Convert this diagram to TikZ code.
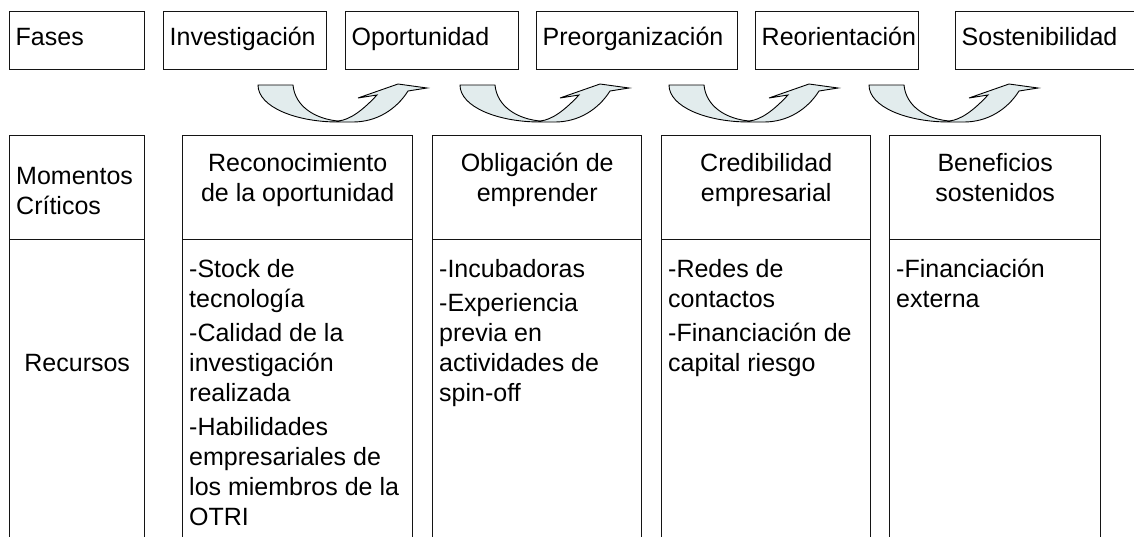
\documentclass[tikz,border=0pt]{standalone}
\usepackage{fontspec}
\setmainfont{Liberation Sans}
\definecolor{arrowfill}{RGB}{226,236,237}
\definecolor{boxline}{RGB}{20,20,20}
\newcommand\tstr[1]{\rule{0pt}{#1pt}}
\newcommand\hstr{\rule[-14pt]{0pt}{38pt}}
\begin{document}
\begin{tikzpicture}[x=1pt,y=-1pt,
  every node/.style={font=\fontsize{25}{30}\selectfont, inner sep=0pt},
  hdrbox/.style={draw=boxline, line width=1.4pt, anchor=north west, minimum height=58pt, inner xsep=6pt, inner ysep=0pt, align=left},
  cellbox/.style={draw=boxline, line width=1.4pt, anchor=north west},
  toplabel/.style={anchor=north, align=center},
  listlabel/.style={anchor=north west, align=left},
  flowarrow/.style={draw=black, line width=0.9pt, fill=arrowfill, line join=miter}]
\useasboundingbox (0,0) rectangle (1134,536);
\clip (0,0) rectangle (1134,536);

% phase header boxes
\node[hdrbox, text width=123pt] (fases) at (9,11) {\hstr Fases};
\node[hdrbox, text width=151pt] (investigacion) at (163,11) {\hstr Investigación};
\node[hdrbox, text width=161pt] (oportunidad) at (345,11) {\hstr Oportunidad};
\node[hdrbox, text width=189pt] (preorganizacion) at (536,11) {\hstr Preorganización};
\node[hdrbox, text width=151pt] (reorientacion) at (755,11) {\hstr Reorientación};
\node[hdrbox, text width=188pt] (sostenibilidad) at (955,11) {\hstr Sostenibilidad};

% curved transition arrows
\foreach \ox in {258,460,669,869} {
  \draw[flowarrow, shift={(\ox,85)}]
    (0,0) .. controls (0,22) and (38,37) .. (80,37)
    -- (95,37) .. controls (118,37) and (138,25) .. (150,6)
    -- (169,3) -- (140,-1) -- (100,13) -- (119,10)
    .. controls (105,25) and (92,35) .. (80,36)
    .. controls (58,34) and (37,22) .. (35,0) -- cycle;
}

% left column
\node[cellbox, minimum width=135pt, minimum height=104pt] (momtop) at (9,135) {};
\node[cellbox, minimum width=135pt, minimum height=320pt] (recbot) at (9,239) {};
\node[listlabel] (momtxt) at ([xshift=7pt]momtop.north west) {\tstr{49}Momentos\\Críticos};
\node[toplabel] (rectxt) at (recbot.north) {\tstr{132}Recursos};

% column 1
\node[cellbox, minimum width=230pt, minimum height=104pt] (c1top) at (182,135) {};
\node[cellbox, minimum width=230pt, minimum height=320pt] (c1bot) at (182,239) {};
\node[toplabel] (c1head) at (c1top.north) {\tstr{36}Reconocimiento\\de la oportunidad};
\node[listlabel] (c1list) at ([xshift=7pt]c1bot.north west)
  {\tstr{38}-Stock de\\tecnología\\[4pt]-Calidad de la\\investigación\\realizada\\[4pt]-Habilidades\\empresariales de\\los miembros de la\\OTRI};

% column 2
\node[cellbox, minimum width=209pt, minimum height=104pt] (c2top) at (432,135) {};
\node[cellbox, minimum width=209pt, minimum height=320pt] (c2bot) at (432,239) {};
\node[toplabel] (c2head) at (c2top.north) {\tstr{36}Obligación de\\emprender};
\node[listlabel] (c2list) at ([xshift=7pt]c2bot.north west)
  {\tstr{38}-Incubadoras\\[4pt]-Experiencia\\previa en\\actividades de\\spin-off};

% column 3
\node[cellbox, minimum width=209pt, minimum height=104pt] (c3top) at (661,135) {};
\node[cellbox, minimum width=209pt, minimum height=320pt] (c3bot) at (661,239) {};
\node[toplabel] (c3head) at (c3top.north) {\tstr{36}Credibilidad\\empresarial};
\node[listlabel] (c3list) at ([xshift=7pt]c3bot.north west)
  {\tstr{38}-Redes de\\contactos\\[4pt]-Financiación de\\capital riesgo};

% column 4
\node[cellbox, minimum width=211pt, minimum height=104pt] (c4top) at (889,135) {};
\node[cellbox, minimum width=211pt, minimum height=320pt] (c4bot) at (889,239) {};
\node[toplabel] (c4head) at (c4top.north) {\tstr{36}Beneficios\\sostenidos};
\node[listlabel] (c4list) at ([xshift=7pt]c4bot.north west)
  {\tstr{38}-Financiación\\externa};
\end{tikzpicture}
\end{document}
